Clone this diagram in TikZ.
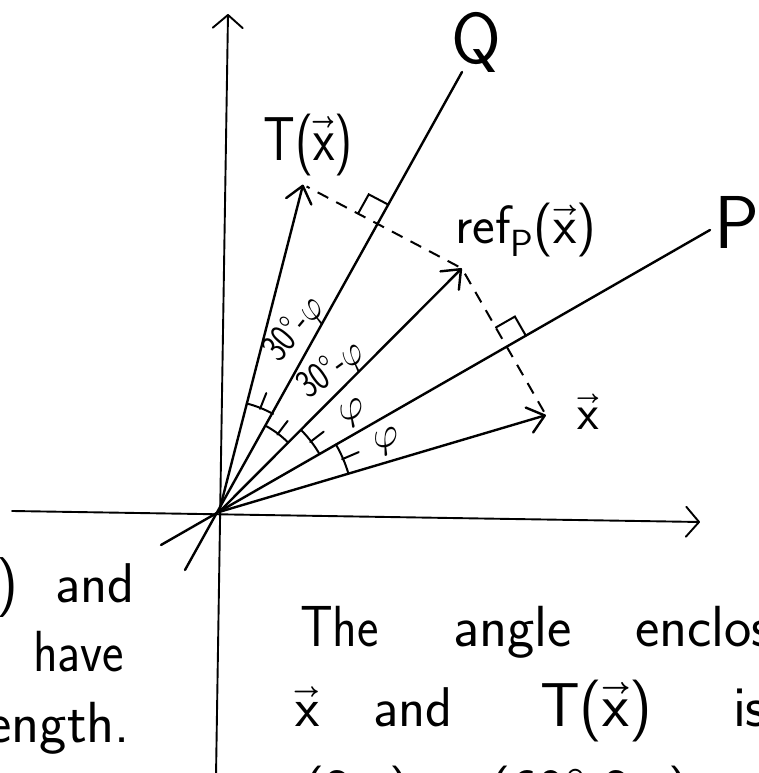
\documentclass[tikz,border=0pt]{standalone}
\usepackage{fontspec}
\usepackage{unicode-math}
\usetikzlibrary{arrows.meta,calc}
\newcommand{\hw}[1]{\scalebox{0.8}[1]{#1}}
\newcommand{\vx}{\ensuremath{\vec{\textsf{x}}}}
\newcommand{\fsz}[1]{\sffamily\fontsize{#1}{#1}\selectfont}
\tikzset{
  axisline/.style={line width=1.9pt, line cap=round, -{Straight Barb[length=13pt,width=30pt,round]}},
  vecline/.style={line width=2.4pt, line cap=round, -{Straight Barb[length=16pt,width=26pt,round]}},
  refline/.style={line width=2.4pt, line cap=round},
  dashline/.style={line width=2pt, dash pattern=on 12pt off 9pt, shorten <=4pt, shorten >=4pt},
  angline/.style={line width=2pt, line cap=round},
  lbl/.style={inner sep=0pt, outer sep=0pt},
}
\begin{document}
\begin{tikzpicture}[x=1pt,y=1pt]
\useasboundingbox (0,0) rectangle (759,773);
\clip (0,0) rectangle (759,773);
% origin and points
\coordinate (O) at (219,261);
\coordinate (Xt) at ($(O)+(16.5:341)$);
\coordinate (Rt) at ($(O)+(45.1:344)$);
\coordinate (Tt) at ($(O)+(75.6:338)$);
\coordinate (Pa) at (161,228);
\coordinate (Pb) at (710,543);
\coordinate (Qa) at (185,203);
\coordinate (Qb) at (462,701);
\coordinate (xl) at (12,262);
\coordinate (xr) at (700,251);
\coordinate (yb) at (216,-3);
\coordinate (yt) at (228,759);
% axes
\draw[axisline] (xl) -- (xr);
\draw[axisline] (yb) -- (yt);
% lines P and Q
\draw[refline] (Pa) -- (Pb);
\draw[refline] (Qa) -- (Qb);
% vectors
\draw[vecline] (O) -- (Xt);
\draw[vecline] (O) -- (Rt);
\draw[vecline] (O) -- (Tt);
% dashed projections
\draw[dashline] (Xt) -- (Rt);
\draw[dashline] (Rt) -- (Tt);
% right angle marks
\coordinate (FP) at (intersection of Pa--Pb and Xt--Rt);
\coordinate (FQ) at (intersection of Qa--Qb and Tt--Rt);
\coordinate (PmA) at ($(FP)!22pt!(Rt)$);
\coordinate (PmB) at ($(FP)!22pt!(Pb)$);
\coordinate (PmC) at ($(PmA)+(PmB)-(FP)$);
\draw[angline] (PmA) -- (PmC) -- (PmB);
\coordinate (QmA) at ($(FQ)!22pt!(Tt)$);
\coordinate (QmB) at ($(FQ)!22pt!(Qb)$);
\coordinate (QmC) at ($(QmA)+(QmB)-(FQ)$);
\draw[angline] (QmA) -- (QmC) -- (QmB);
% angle arcs with ticks
\draw[angline] ($(O)+(16.5:135)$) arc[start angle=16.5,end angle=29.9,radius=135];
\draw[angline] ($(O)+(23.2:134)$) -- ($(O)+(23.2:152)$);
\draw[angline] ($(O)+(29.9:116)$) arc[start angle=29.9,end angle=45.1,radius=116];
\draw[angline] ($(O)+(37.5:115)$) -- ($(O)+(37.5:132)$);
\draw[angline] ($(O)+(45.1:98)$) arc[start angle=45.1,end angle=61.1,radius=98];
\draw[angline] ($(O)+(53:97)$) -- ($(O)+(53:114)$);
\draw[angline] ($(O)+(61.1:112)$) arc[start angle=61.1,end angle=75.6,radius=112];
\draw[angline] ($(O)+(68.3:111)$) -- ($(O)+(68.3:128)$);
% angle labels
\node[lbl, rotate=18] (phiA) at (388,331) {\fsz{40}$\varphi$};
\node[lbl, rotate=25] (phiB) at (353,359) {\fsz{40}$\varphi$};
\node[lbl, rotate=36] (thA) at (332,402) {\fsz{40}\hw{30°-$\varphi$}};
\node[lbl, rotate=50] (thB) at (295,443) {\fsz{40}\hw{30°-$\varphi$}};
% vector and line labels
\node[lbl] (Ql) at (476,731) {\fsz{72}Q};
\node[lbl] (Pl) at (737,551) {\fsz{75}P};
\node[lbl] (Tl) at (308,628) {\fsz{62}\hw{T(\vx)}};
\node[lbl] (Rl) at (526,543) {\fsz{54}ref$_{\textsf{P}}$(\vx)};
\node[lbl] (Xl) at (588,361) {\fsz{50}\vx};
% text bottom right
\node[lbl, anchor=base west] (w1) at (300,126) {\fsz{58}\scalebox{0.88}[1]{The}};
\node[lbl, anchor=base west] (w2) at (453,126) {\fsz{58}angle};
\node[lbl, anchor=base west] (w3) at (635,126) {\fsz{58}enclosed};
\node[lbl, anchor=base west] (w4) at (295,46) {\fsz{56}\vx};
\node[lbl, anchor=base west] (w5) at (373,46) {\fsz{56}and};
\node[lbl, anchor=base west] (w6) at (540,46) {\fsz{62}T(\vx)};
\node[lbl, anchor=base west] (w7) at (733,46) {\fsz{58}is};
\node[lbl, anchor=base west] (w8) at (303,-36) {\fsz{58}(2$\varphi$) + (60°-2$\varphi$)};
% text left
\node[lbl, anchor=base east] (l1) at (18,170) {\fsz{60}T(\vx)};
\node[lbl, anchor=base west] (l2) at (55,170) {\fsz{56}and};
\node[lbl, anchor=base west] (l3) at (33,101) {\fsz{58}\scalebox{0.88}[1]{have}};
\node[lbl, anchor=base east] (l4) at (130,30) {\fsz{58}the same length.};
\end{tikzpicture}
\end{document}
